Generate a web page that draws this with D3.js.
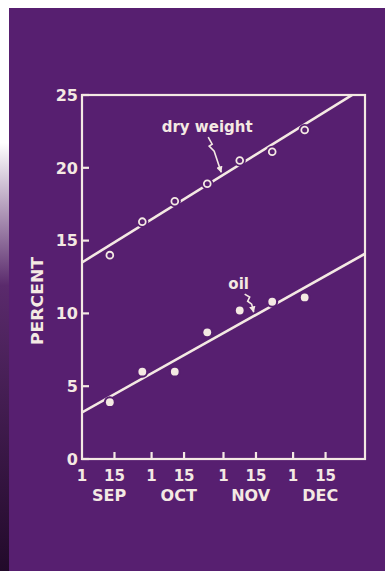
<!DOCTYPE html>
<html>
<head>
<meta charset="utf-8">
<script src="https://cdn.jsdelivr.net/npm/d3@7"></script>
<style>
  html, body { margin: 0; padding: 0; background: #fff; }
  svg { display: block; }
</style>
</head>
<body>
<svg id="chart" width="385" height="571"></svg>
<script>
// sampling dates (every two weeks) and measured percentages
const sampleDates = ["1950-09-13", "1950-09-27", "1950-10-11", "1950-10-25", "1950-11-08", "1950-11-22", "1950-12-06"];
const dryWeight = [14.0, 16.3, 17.7, 18.9, 20.5, 21.1, 22.6];
const oil = [3.9, 6.0, 6.0, 8.7, 10.2, 10.8, 11.1];

// fitted straight lines, value at Sep 1 and at Jan 1
const fitDates = ["1950-09-01", "1951-01-01"];
const dryFit = [13.5, 25.55];
const oilFit = [3.2, 14.1];

// axis ticks
const yTicks = [0, 5, 10, 15, 20, 25];
const xTickDates = ["1950-09-01", "1950-09-15", "1950-10-01", "1950-10-15", "1950-11-01", "1950-11-15", "1950-12-01", "1950-12-15"];
const xTickLabels = ["1", "15", "1", "15", "1", "15", "1", "15"];
const monthLabels = ["SEP", "OCT", "NOV", "DEC"];
const monthDates = ["1950-09-14", "1950-10-14", "1950-11-14", "1950-12-14"];

const parse = d3.timeParse("%Y-%m-%d");
const BG = "#571f70";
const INK = "#f4e9e3";
const FONT = "'DejaVu Sans', sans-serif";

const svg = d3.select("#chart");

// slide background (page margin shows white round it, dark film edge on the left)
svg.append("rect").attr("width", 385).attr("height", 571).attr("fill", "#fff");
const defs = svg.append("defs");
const edge = defs.append("linearGradient").attr("id", "edge").attr("x1", 0).attr("x2", 0).attr("y1", 0).attr("y2", 1);
edge.append("stop").attr("offset", "0.25").attr("stop-color", "#fff");
edge.append("stop").attr("offset", "0.5").attr("stop-color", "#5a2a6c");
edge.append("stop").attr("offset", "1").attr("stop-color", "#220a2a");
svg.append("rect").attr("x", 8).attr("y", 8).attr("width", 377).attr("height", 563).attr("fill", BG);
svg.append("rect").attr("x", 0).attr("y", 0).attr("width", 9).attr("height", 571).attr("fill", "url(#edge)");

const x = d3.scaleTime().domain([parse("1950-09-01"), parse("1951-01-01")]).range([82, 365]);
const y = d3.scaleLinear().domain([0, 25]).range([459, 95]);
const [x0, x1] = x.range();
const [yb, yt] = y.range();

defs.append("clipPath").attr("id", "plot")
  .append("rect").attr("x", x0).attr("y", yt).attr("width", x1 - x0).attr("height", yb - yt);

// frame
svg.append("rect")
  .attr("x", x0).attr("y", yt).attr("width", x1 - x0).attr("height", yb - yt)
  .attr("fill", "none").attr("stroke", INK).attr("stroke-width", 2.2);

// y ticks point inward
svg.append("g").selectAll("line").data(yTicks).join("line")
  .attr("x1", x0).attr("x2", x0 + 7)
  .attr("y1", d => y(d)).attr("y2", d => y(d))
  .attr("stroke", INK).attr("stroke-width", 2.2);
svg.append("g")
  .attr("font-family", FONT).attr("font-weight", "bold").attr("font-size", 16)
  .attr("fill", INK).attr("text-anchor", "end")
  .selectAll("text").data(yTicks).join("text")
  .attr("x", x0 - 4).attr("y", d => y(d)).attr("dy", "0.36em")
  .text(d => d);

// x ticks
const xt = xTickDates.map(parse);
svg.append("g").selectAll("line").data(xt.slice(1)).join("line")
  .attr("x1", d => x(d)).attr("x2", d => x(d))
  .attr("y1", yb).attr("y2", yb - 7)
  .attr("stroke", INK).attr("stroke-width", 2.2);
svg.append("g")
  .attr("font-family", FONT).attr("font-weight", "bold").attr("font-size", 15)
  .attr("fill", INK).attr("text-anchor", "middle")
  .selectAll("text").data(xt).join("text")
  .attr("x", d => x(d)).attr("y", yb + 22)
  .text((d, i) => xTickLabels[i]);
svg.append("g")
  .attr("font-family", FONT).attr("font-weight", "bold").attr("font-size", 16)
  .attr("fill", INK).attr("text-anchor", "middle")
  .selectAll("text").data(monthLabels).join("text")
  .attr("x", (d, i) => x(parse(monthDates[i])) - 3).attr("y", yb + 42)
  .text(d => d);

// y title
svg.append("text")
  .attr("transform", `translate(43,301) rotate(-90)`)
  .attr("font-family", FONT).attr("font-weight", "bold").attr("font-size", 15)
  .attr("fill", INK).attr("text-anchor", "middle")
  .attr("textLength", 88).attr("lengthAdjust", "spacingAndGlyphs")
  .text("PERCENT");

// fitted lines
const fd = fitDates.map(parse);
const lineGen = d3.line().x(d => x(d[0])).y(d => y(d[1]));
const fits = svg.append("g").attr("clip-path", "url(#plot)");
[dryFit, oilFit].forEach(f => {
  fits.append("path")
    .attr("d", lineGen(fd.map((d, i) => [d, f[i]])))
    .attr("fill", "none").attr("stroke", INK).attr("stroke-width", 2.6);
});

// points: background halo first so the line breaks round them
const sd = sampleDates.map(parse);
const dryPts = sd.map((d, i) => [d, dryWeight[i]]);
const oilPts = sd.map((d, i) => [d, oil[i]]);

svg.append("g").selectAll("circle").data(dryPts.concat(oilPts)).join("circle")
  .attr("cx", d => x(d[0])).attr("cy", d => y(d[1])).attr("r", 6)
  .attr("fill", BG);
svg.append("g").selectAll("circle").data(dryPts).join("circle")
  .attr("cx", d => x(d[0])).attr("cy", d => y(d[1])).attr("r", 3.4)
  .attr("fill", BG).attr("stroke", INK).attr("stroke-width", 1.8);
svg.append("g").selectAll("circle").data(oilPts).join("circle")
  .attr("cx", d => x(d[0])).attr("cy", d => y(d[1])).attr("r", 3.9)
  .attr("fill", INK);

// labels with squiggly arrows pointing at the fitted lines
defs.append("marker").attr("id", "head")
  .attr("viewBox", "0 0 10 10").attr("refX", 9).attr("refY", 5)
  .attr("markerWidth", 4).attr("markerHeight", 4).attr("orient", "auto")
  .append("path").attr("d", "M0,0L10,5L0,10Z").attr("fill", INK);

function fitAt(f, date) {
  const t = (date - fd[0]) / (fd[1] - fd[0]);
  return f[0] + t * (f[1] - f[0]);
}

const notes = [
  { text: "dry weight", date: "1950-10-31", fit: dryFit, tx: -14, ty: -40, size: 15,
    squiggle: [[-13, -35], [-9, -28], [-12, -26], [-7, -21], [0, 0]] },
  { text: "oil", date: "1950-11-14", fit: oilFit, tx: -15, ty: -23, size: 15,
    squiggle: [[-9, -18], [-4, -15], [-6, -11], [-2, -8], [0, 0]] }
];

notes.forEach(n => {
  const d = parse(n.date);
  const tipX = x(d), tipY = y(fitAt(n.fit, d)) - 4;
  svg.append("text")
    .attr("x", tipX + n.tx).attr("y", tipY + n.ty)
    .attr("font-family", FONT).attr("font-weight", "bold").attr("font-size", n.size)
    .attr("fill", INK).attr("text-anchor", "middle")
    .text(n.text);
  svg.append("path")
    .attr("d", d3.line()(n.squiggle.map(p => [tipX + p[0], tipY + p[1]])))
    .attr("fill", "none").attr("stroke", INK).attr("stroke-width", 1.6)
    .attr("marker-end", "url(#head)");
});
</script>
</body>
</html>
